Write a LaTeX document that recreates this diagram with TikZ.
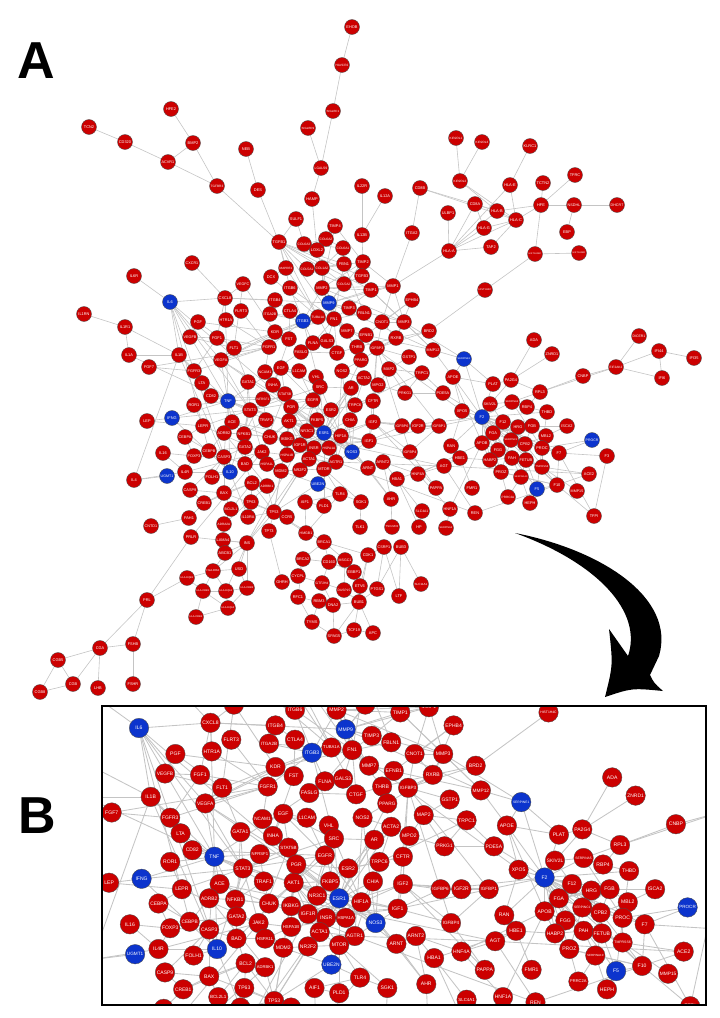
\documentclass[tikz,border=0pt]{standalone}
\usepackage{fontspec}
\usepackage{graphicx}
\setmainfont{Liberation Sans}
\definecolor{nred}{RGB}{204,0,0}
\definecolor{nblue}{RGB}{12,52,205}
\definecolor{egray}{RGB}{196,196,196}
\newsavebox\lblbox
\newcommand\lbl[1]{\sbox\lblbox{#1}\ifdim\wd\lblbox>12.6pt\resizebox{12.6pt}{!}{\usebox\lblbox}\else\usebox\lblbox\fi}
\tikzset{
  nd/.style={circle, draw=black!70, line width=0.35pt, minimum size=15pt, inner sep=0pt, text=white, font=\fontsize{3.9}{4}\selectfont},
  rn/.style={nd, fill=nred},
  bn/.style={nd, fill=nblue},
  ed/.style={draw=egray},
  panellabel/.style={font=\bfseries\fontsize{52}{52}\selectfont, inner sep=0pt, anchor=base west}
}
\def\redlist{EHOB/352/27, HAVCR2/342/65, SIGLEC1/333/111, SIGLEC9/308/128, LGALS9/321/168,
TCN2/89/127, CD320/125/142, HFE2/171/109, BMP2/193/143, ACVR1/168/162, TGFBR3/217/186, NEB/246/149, DES/258/190, IL22R/362/186,
KIR2DL1/456/138, KIR2DL3/482/142, KIR2DL2/460/181, KLRC1/530/146, HLA-E/510/185, TCTN2/543/183, TFRC/575/175, CD8B/420/188, IL12A/385/196,
ULBP1/448/213, CD8A/475/204, HLA-B/497/211, HFE/541/205, NSDHL/574/205, DHCR7/617/205, HLA-C/516/220, HLA-G/484/228, EBP/567/232, ITGA2/412/233, HLA-A/449/251, TAP2/491/247, HIST1H2BC/535/254, HIST1H2BD/579/253, HIST1H4C/485/290,
MMP1/393/286, TIMP1/371/290, EPHB4/412/300, CNOT1/382/322, MMP3/404/322, BRD2/429/331, RXRB/396/338, IGFBP3/377/348, MMP12/433/350, GSTP1/409/357, ADA/534/340, ZNRD1/552/354, DICER1/639/336, IFI44/659/351, IFI35/694/358, EIF2AK2/616/367,
MAP2/389/369, TRPC1/422/373, APOE/453/377, PLAT/493/384, PA2G4/511/380, CNBP/583/376, IFI6/662/378, MPO2/378/385, PRKG1/405/393, PDE5A/443/393, RPL3/540/392, CFTR/373/401, SKIV2L/490/404, SERPINA5/512/402, RBP4/527/407, THBD/547/412, XPO5/462/411, F12/503/422, HRG/518/427, FGB/532/426, ISCA2/567/426, IGF2/373/422, IGFBP6/402/426, IGF2R/418/426, IGFBP1/439/426, FGA/493/433, SERPINC1/511/440, CPB2/525/444, MBL2/546/436, RAN/451/446, APOB/482/443, FGG/498/450, PROC/542/448, F7/559/453, F3/607/456, IGF1/369/441, IGFBP4/410/452, HBE1/460/458, HABP2/490/460, PAH/512/458, FETUB/526/460, ARNT2/383/462, AGT/444/466, PROZ/501/472, TMPRSS6/542/467, ACE2/589/474, HNF4A/418/474, SERPINA10/521/477, HBA1/397/479, F10/557/485, MMP15/577/491, PAPPA/436/488, FMR1/472/488, PRRC2A/508/497, AHR/391/499, HEPH/530/503, HNF1A/450/509, SLC4A1/422/511, REN/475/513, TFPI/594/516, TSC22D3/392/527, HP/419/527, SERPINA4/446/528,
HAMP/312/199, SULF1/296/219, TIMP4/335/226, COL6A2/326/239, TGFB1/279/242, COL6A3/304/244, LOXL2/317/250, COL6A1/343/248, IL12B/362/235, TIMP2/363/262, FBN1/344/264, MAPRE1/286/268, COL5A1/307/269, COL1A2/322/268, TGFB3/362/276, DCX/271/277, CXCR1/192/263, IL6R/134/276, VEGFC/243/284, ITGB6/290/288, MMP2/322/288, COL5A2/344/284, CXCL8/225/298, ITGB4/275/300, CTLA4/290/311, FLRT3/241/311, IL1RN/84/314, IL1R1/125/327, ITGA2B/270/314, TUBA1A/318/317, FN1/334/319, TIMP3/349/308, FBLN1/364/313, HTR1A/226/320, PGF/198/322, KDR/275/332, MMP7/347/331, EFNB1/366/335, VEGFB/190/337, FGF1/217/338, FST/289/339, FLNA/313/343, GALS3/327/341, THRB/357/347, FLT1/234/348, FGFR1/269/347, FASLG/301/352, CTGF/337/353, IL1A/129/355, IL1B/179/355, VEGFA/221/360, PPARG/361/360,
FGF7/149/367, FGFR3/194/371, NCAM1/265/372, EGF/281/368, L1CAM/299/371, VHL/316/377, NOS2/342/371, ACTA2/364/378, LTA/202/383, GATA1/248/382, INHA/273/385, SRC/320/387, AR/351/388, CD82/211/396, NFRSF1/263/399, STAT5B/285/394, EGFR/313/400, TRPC6/355/405, ROR1/194/405, PGR/291/407, STAT3/250/410, ESR2/331/410, LEP/147/421, ACE/232/422, TRAF1/266/420, AKT1/289/421, FKBP5/317/420, CHIA/350/420, LEPR/203/426, CEBPA/185/437, ADRB2/224/433, NFKB1/244/434, NR3C1/307/431, HIF1A/341/436, CHUK/270/437, IKBKG/287/439, IL16/163/453, FOXP3/194/456, CEBPB/209/451, CASP3/224/457, GATA2/245/447, JAK2/262/452, HSPA1B/287/455, IGF1R/300/445, INSR/314/448, HSPA1A/329/448, ACTA1/309/459, AGTR1/336/462, IL4/134/480, IL4R/185/472, FOLH1/212/477, BAD/245/464, HSPA1L/267/464, MDM2/281/471, NR2F2/300/470, MTOR/324/469, ARNT/368/468, CASP9/190/490, BCL2/252/483, ADRBK1/267/486, TLR4/340/494, SGK1/361/502, BAX/224/493, CREB1/204/503, TP63/251/502, AIF1/305/502, PLD1/324/506, BCL2L1/231/509, TP53/274/512, IL10RA/248/517, CCR5/287/517, PAH1/189/518, ADRA2A/224/524, TLK1/360/527, CNTD1/151/526, TP73/269/531, HMGB1/306/533, PRLR/191/537,
LAMA4/223/540, INS/247/543, ABCB1/225/553, USD/239/569, HLA-DQB1/187/578, HLA-DRA/213/571, HLA-DRB1/203/591, HLA-DQA1/226/591, HLA-DRB5/247/588, HLA-DQA2/228/608, HLA-DRB4/196/617, PRL/147/600, CGA/100/648, FSHB/133/644, FSHR/133/684, LHB/98/688, CGB/73/684, CGB5/58/660, CGB8/40/692, GHRH/282/582, BRCA2/303/559, BRCA1/324/542, CD160/329/562, MSGC1/345/560, CYCPL/298/576, GTF2H4/322/583, EBBP1/354/572, ETV6/360/586, RFC1/298/597, RBM3/319/601, DNA2/333/605, DUSP15/344/590, BUB1/359/602, TYMS/312/622, SPAG5/334/636, TCF19/354/630, APC/373/633, CDK1/368/555, CSRP1/384/547, BUB3/401/547, SLC11A1/421/584, PTGS1/377/589, LTF/399/596}
\def\bluelist{IL6/170/302, MMP9/329/303, ITGB3/303/321, TNF/228/401, IFNG/172/418, ESR1/324/433, NOS3/352/452, UGMT1/167/476, IL10/230/472, UBE2N/318/484, SERPINE1/464/359, F2/482/417, PROCR/592/440, F5/537/489}
\def\edgelist{TCN2/CD320, CD320/ACVR1, HFE2/BMP2, BMP2/ACVR1, BMP2/TGFBR3, ACVR1/TGFBR3, TGFBR3/TGFB1, DES/TGFB1, NEB/DES,
EHOB/HAVCR2, HAVCR2/SIGLEC1, SIGLEC1/LGALS9, SIGLEC9/LGALS9, LGALS9/HAMP, IL22R/IL12B, IL12A/IL12B,
KIR2DL1/KIR2DL2, KIR2DL3/KIR2DL2, KIR2DL2/HLA-B, KIR2DL2/HLA-C, KLRC1/HLA-E, HLA-E/HLA-C, HLA-E/HLA-A, TFRC/HFE, TCTN2/HFE, CD8B/HLA-B, CD8B/HLA-C, CD8B/ITGA2,
ULBP1/HLA-A, CD8A/HLA-A, CD8A/HLA-B, CD8A/HLA-G, HLA-B/HLA-C, HLA-G/HLA-C, HLA-G/HLA-A, HLA-C/HLA-A, HLA-C/TAP2, HLA-A/TAP2, HLA-B/HLA-A, HLA-C/HFE, HLA-B/HFE, HFE/NSDHL, NSDHL/DHCR7, NSDHL/EBP, HFE/HIST1H2BC, HIST1H2BC/HIST1H2BD, HIST1H2BC/HIST1H4C, HIST1H4C/BRD2, HLA-A/MMP1, ITGA2/MMP1,
ADA/PA2G4, ZNRD1/PA2G4, PA2G4/PLAT, PA2G4/RPL3, PA2G4/SKIV2L, RPL3/CNBP, RPL3/EIF2AK2, CNBP/EIF2AK2, DICER1/EIF2AK2, EIF2AK2/IFI44, EIF2AK2/IFI6, IFI44/IFI35, IFI44/IFI6, RPL3/SERPINA5, RPL3/RBP4,
SERPINE1/MMP3, SERPINE1/PLAT, SERPINE1/F2, SERPINE1/MMP12, SERPINE1/APOE,
MMP1/CNOT1, MMP1/MMP3, MMP1/TIMP1, EPHB4/CNOT1, EPHB4/RXRB, MMP3/CNOT1, MMP3/RXRB, MMP3/MMP12, MMP3/TIMP1, CNOT1/RXRB, CNOT1/IGFBP3, RXRB/IGFBP3, MMP12/APOE, MMP12/TIMP1, GSTP1/IGFBP3, GSTP1/MAP2, BRD2/IGFBP3, BRD2/RXRB, MAP2/TRPC1, MAP2/MPO2, MAP2/PRKG1, TRPC1/PRKG1, PRKG1/PDE5A, PDE5A/TRPC1, MPO2/PRKG1, MPO2/CFTR, CFTR/IGF2, CFTR/TRPC6, APOE/APOB, APOE/F2, APOE/PLAT, APOE/XPO5, PLAT/F2, PDE5A/F2,
IL6/CXCL8, IL6/IL6R, IL6/IL1B, IL6/STAT3, IL6/TNF, IL6/IL10, IL6/VEGFA, CXCR1/CXCL8, IL1RN/IL1R1, IL1R1/IL1B, IL1R1/IL1A, IL1A/IL1B, IL1B/TNF, IL1B/FGFR3, IL1B/IL10, IL1B/IL4,
FGF7/FGFR3, FGF7/FGFR1, FGFR3/FGF1, FGFR3/LTA, FGFR3/FGFR1, VEGFC/CXCL8, VEGFC/KDR, VEGFC/FLT1, CXCL8/MMP9, CXCL8/FGF1, CXCL8/ITGB4,
PGF/FLT1, PGF/VEGFB, PGF/KDR, VEGFB/FLT1, VEGFB/FGF1, FGF1/FGFR1, FLT1/VEGFA, FLT1/KDR, KDR/VEGFA, KDR/FGFR1, VEGFA/FGFR1, VEGFA/ITGB3, VEGFA/HIF1A, VEGFA/NOS3, FLRT3/FGFR1, HTR1A/FGFR1, HTR1A/CXCL8, FLT1/GATA1,
ITGB4/ITGB3, ITGB4/ITGA2B, ITGA2B/ITGB3, ITGB6/FN1, ITGB6/ITGB3, ITGB6/TGFB1, ITGB3/FN1, ITGB3/TUBA1A, FN1/TUBA1A, FN1/MMP9, FN1/COL1A2, FN1/TGFB1, FN1/FBN1, FN1/FBLN1, FN1/TIMP3, FN1/FLNA, FN1/CTGF, FN1/ITGA2B, FN1/KDR, DCX/MAPRE1, MAPRE1/TUBA1A, DCX/TUBA1A, CTLA4/ITGB3, CTLA4/FST, ITGB3/KDR, ITGB3/FLNA, ITGB3/SRC, ITGB3/FGFR1, ITGB3/MMP2, FLNA/GALS3, GALS3/FN1, FASLG/FLNA, FASLG/TNF, FASLG/CTGF, CTGF/THRB, CTGF/TGFB1, FST/INHA, FST/KDR, MMP7/MMP9, MMP7/EFNB1, MMP7/FN1, EFNB1/EPHB4, MMP2/TIMP2, MMP2/TIMP1, MMP2/MMP9, MMP2/COL1A2, MMP9/TIMP1, MMP9/TIMP3, MMP9/COL5A2, MMP9/MMP1, MMP9/MMP3, MMP9/TIMP2, FBLN1/FBN1,
COL6A2/COL6A3, COL6A2/COL6A1, COL6A3/COL6A1, COL6A1/COL1A2, COL1A2/COL5A1, COL5A1/COL5A2, COL5A2/COL1A2, COL1A2/LOXL2, LOXL2/COL6A3, COL5A1/FBN1, FBN1/TGFB1, TGFB1/SULF1, SULF1/COL6A3, HAMP/LOXL2, TIMP4/TIMP2, TIMP4/COL6A2, TIMP4/MMP2, TGFB3/TGFB1, TGFB3/COL5A2, TGFB1/COL1A2, TGFB1/MAPRE1, TGFB1/TIMP1, TGFB1/COL5A1, COL6A1/FBN1, COL1A2/TIMP2, IL12B/TIMP2,
PPARG/RXRB, PPARG/NOS2, PPARG/THRB, PPARG/ESR1, THRB/RXRB,
NCAM1/L1CAM, NCAM1/FGFR1, EGF/EGFR, EGF/L1CAM, EGF/STAT5B, L1CAM/EGFR, VHL/HIF1A, VHL/EGFR, VHL/SRC, SRC/EGFR, SRC/AR, SRC/ESR1, SRC/STAT3, SRC/FKBP5, AR/ESR2, AR/ESR1, AR/ACTA2, NOS2/NOS3, NOS2/ACTA2, ACTA2/ACTA1, ESR1/ESR2, ESR1/NR3C1, ESR1/PGR, ESR1/AKT1, ESR1/HIF1A, ESR1/IGF1R, ESR1/FKBP5, ESR1/MTOR, ESR1/CHIA, NR3C1/FKBP5, NR3C1/HSPA1A, NR3C1/AKT1, PGR/ESR2, PGR/STAT5B, PGR/AKT1, STAT5B/STAT3, STAT5B/JAK2, STAT3/JAK2, STAT3/EGFR, STAT3/NFKB1, STAT3/AKT1, STAT3/GATA1,
NFRSF1/TNF, NFRSF1/TRAF1, NFRSF1/NFKB1, TNF/TRAF1, TNF/NFKB1, TNF/IL10, TNF/IFNG, TNF/CASP3, TNF/LTA, TNF/CD82, TNF/ROR1, LTA/CD82, IFNG/IL10, IFNG/STAT3, IFNG/LEP, LEP/LEPR, LEPR/JAK2, LEPR/STAT3, ACE/AGTR1, ACE/ADRB2, ACE/TNF, TRAF1/NFKB1, TRAF1/CHUK,
AKT1/MTOR, AKT1/CHUK, AKT1/IKBKG, AKT1/IGF1R, AKT1/BAD, AKT1/MDM2, AKT1/TP53, AKT1/INSR, AKT1/SRC, AKT1/EGFR, AKT1/FKBP5, AKT1/HSPA1B, AKT1/NOS3, CHUK/IKBKG, CHUK/NFKB1, IKBKG/NFKB1, IKBKG/HSPA1B, NFKB1/ADRB2, NFKB1/GATA2, ADRB2/ADRBK1, ADRB2/CEBPB, CEBPA/CEBPB, CEBPA/FOXP3, CEBPA/LEPR, CEBPB/GATA2, CEBPB/CASP3, FOXP3/IL4R, FOXP3/IL16, FOXP3/CASP3, IL16/IL4R,
CASP3/BAD, CASP3/CASP9, CASP3/BAX, CASP3/GATA2, CASP9/BAX, BAX/BCL2, BAX/BCL2L1, BAX/TP53, BCL2/BAD, BCL2/BCL2L1, BCL2/TP53, BCL2/TP63, BAD/HSPA1L, BAD/GATA2, HSPA1L/HSPA1B, HSPA1L/MDM2, HSPA1B/HSPA1A, HSPA1B/JAK2, HSPA1A/INSR, HSPA1A/IGF1R, IGF1R/INSR, IGF1R/IGF1, IGF1R/IGF2, INSR/ACTA1, INSR/IGF2, ACTA1/MTOR, ACTA1/AGTR1, MTOR/HIF1A, MTOR/PLD1, MTOR/UBE2N, HIF1A/NOS3, HIF1A/ARNT, HIF1A/CHIA, NOS3/AGTR1, NOS3/TRPC6, NOS3/IGF1,
MDM2/TP53, MDM2/NR2F2, TP53/TP63, TP53/TP73, TP53/HMGB1, TP53/CCR5, TP53/IL10RA, TP53/ADRBK1, NR2F2/ESR1, NR2F2/MTOR, UBE2N/TP53, UBE2N/TLR4, UBE2N/MDM2, TLR4/HMGB1, TLR4/AIF1, TLR4/SGK1, PLD1/AIF1, SGK1/MTOR, TLK1/SGK1, IL10RA/IL10, IL4/IL4R, UGMT1/IL4, IL4R/JAK2, IL10/FOLH1, IL10/IL4R, FOLH1/CASP3, CREB1/BCL2, CREB1/BAX, CREB1/CASP9, ADRA2A/ADRBK1, ADRA2A/BCL2L1, PAH1/CREB1, CNTD1/PAH1, PRLR/JAK2, PRLR/INS, INS/INSR, INS/IGF1R, INS/TP53,
ARNT/ARNT2, ARNT/AHR, CHIA/TRPC6, GATA1/GATA2, INHA/STAT5B, INHA/EGF, GATA2/JAK2, JAK2/MDM2, ROR1/LEPR, CD82/EGFR, TRPC6/TRPC1, TRPC6/ESR2,
IGF1/IGFBP3, IGF1/IGFBP1, IGF1/IGFBP4, IGF1/IGFBP6, IGF2/IGFBP6, IGF2/IGF2R, IGF2/IGFBP4, IGF2/IGFBP3, IGF2R/IGFBP1, IGFBP1/F2, IGFBP1/IGFBP4, IGFBP6/IGFBP1, IGF1/HIF1A, IGFBP3/IGFBP1,
AGTR1/AGT, AGT/REN, AGT/ACE, AGT/HNF4A, AGT/HBE1, HNF4A/HNF1A, HNF4A/ARNT2, HNF4A/APOB, ARNT2/AHR, AHR/TSC22D3, HBA1/HP, HBA1/SLC4A1, HBA1/HBE1, HBA1/ARNT2, PAPPA/IGFBP4, PAPPA/IGF2, FMR1/HBE1, REN/ACE2, HNF1A/SERPINA4, HNF1A/APOB, SLC4A1/HP, XPO5/RAN, RAN/F2, HBE1/HABP2,
F2/F12, F2/FGA, F2/FGB, F2/FGG, F2/SERPINC1, F2/THBD, F2/F5, F2/F10, F2/F7, F2/PROC, F2/CPB2, F2/HRG, F2/APOB, F2/SERPINA5, F2/PROZ, F2/SKIV2L, F2/XPO5, F2/HABP2, F2/IGFBP6,
F12/HRG, F12/FGA, F12/SERPINC1, F12/HABP2, F12/CPB2, HRG/FGB, HRG/FGA, HRG/FETUB, HRG/SERPINC1, FGB/FGA, FGB/FGG, FGB/CPB2, FGB/MBL2, FGA/FGG, FGA/SERPINC1, FGA/PAH, FGG/PAH, FGG/SERPINC1, FGG/HABP2, SERPINC1/CPB2, SERPINC1/PROC, SERPINC1/F10, SERPINC1/PROZ, CPB2/PROC, CPB2/FETUB, CPB2/MBL2, MBL2/PROC, PROC/F7, PROC/PROCR, PROC/F5, PROC/THBD, PROC/TMPRSS6, FETUB/PAH, FETUB/SERPINA10, FETUB/TMPRSS6, PAH/HABP2, PAH/SERPINA10, HABP2/PROZ, PROZ/SERPINA10, PROZ/F10, SERPINA10/F10, SERPINA10/PRRC2A, F5/F10, F10/F7, F7/F3, F7/TFPI, F3/TFPI, F10/TFPI, ACE2/TMPRSS6, MMP15/TMPRSS6, HEPH/SERPINA10, PRRC2A/PROZ, THBD/RBP4, RBP4/SERPINA5, ISCA2/MBL2, ISCA2/FGB, SKIV2L/F12, SKIV2L/SERPINA5, PROCR/F7, APOB/FGA, APOB/FGG, APOB/HABP2, APOB/PAH, F5/HEPH, FETUB/F5, CPB2/F10, SERPINA5/PROC,
PRL/PRLR, PRL/HLA-DQB1, PRL/CGA, PRL/FSHB, CGA/FSHB, CGA/LHB, CGA/CGB, CGA/CGB5, CGB5/CGB, CGB/CGB8, CGB5/CGB8, FSHB/FSHR,
INS/ABCB1, INS/USD, INS/HLA-DRA, INS/HLA-DQA1, INS/HLA-DRB5, INS/LAMA4, HLA-DQB1/HLA-DRA, HLA-DQB1/HLA-DRB1, HLA-DRA/HLA-DRB1, HLA-DRA/HLA-DQA1, HLA-DRB1/HLA-DQA1, HLA-DRB1/HLA-DRB4, HLA-DRB1/HLA-DQA2, HLA-DQA1/HLA-DQA2, HLA-DQA1/HLA-DRB5, HLA-DRB5/HLA-DQA2, HLA-DRB4/HLA-DQA2, USD/HLA-DRA, ABCB1/HLA-DRA, USD/HLA-DRB5,
BRCA1/BRCA2, BRCA1/CD160, BRCA1/MSGC1, BRCA1/TP53, BRCA1/CDK1, BRCA2/RFC1, BRCA2/CYCPL, BRCA2/CD160, CD160/GTF2H4, MSGC1/EBBP1, EBBP1/ETV6, GTF2H4/DNA2, RBM3/DNA2, RBM3/TYMS, DNA2/SPAG5, DUSP15/BUB1, BUB1/TCF19, BUB1/SPAG5, BUB1/DNA2, ETV6/BUB1, TCF19/SPAG5, TYMS/SPAG5, RFC1/TYMS, GHRH/TP73, CDK1/BUB1, CDK1/ETV6, APC/TCF19, APC/BUB1, CSRP1/PTGS1, BUB3/PTGS1, BUB3/LTF, BUB3/SLC11A1, CSRP1/LTF, CYCPL/GTF2H4, RFC1/DNA2, CD160/EBBP1, GTF2H4/DUSP15, MSGC1/DUSP15, PTGS1/BUB1, CSRP1/CDK1,
AKT1/IGF1, EGFR/ESR1, SRC/EGF, STAT3/TNF, TNF/AKT1, IL10/STAT3, TP53/AR, TP53/ESR1, HIF1A/EGFR, NOS3/ESR1, IGF1/INSR, MMP2/MMP3, MMP2/MMP1, MMP9/MMP12, TIMP2/MMP1, FN1/MMP2, FN1/THRB, ESR1/IGF1, IGF1/IGF2, IGF2/IGFBP1, IGFBP4/IGFBP3, AHR/HIF1A, ARNT/ESR1, ACTA2/AGTR1, AGTR1/NOS2, FGA/FN1, ACE2/AGT, REN/AGTR1, VEGFA/TNF, VEGFA/STAT3, IL6/ESR1, TNF/ESR1, EGFR/IGF1R, SRC/IGF1R, ESR2/NR3C1, PGR/NR3C1, IL6/CEBPB, TNF/IL1A, CXCL8/TNF, HMGB1/AIF1, MTOR/TLR4, TIMP1/TIMP3, MMP12/MMP7, CFTR/ESR2}
\newcommand\drawnet[6]{%
  \foreach \n/\x/\y in \redlist {\coordinate (#1\n) at (\x,\y);}
  \foreach \n/\x/\y in \bluelist {\coordinate (#1\n) at (\x,\y);}
  \foreach \a/\b in \edgelist {\draw[ed, line width=#2] (#1\a) -- (#1\b);}
  \foreach \n/\x/\y in \redlist {\ifdim\x pt>#3pt\ifdim\x pt<#4pt\ifdim\y pt>#5pt\ifdim\y pt<#6pt
      \node[rn] (#1v\n) at (\x,\y) {\lbl{\n}};\fi\fi\fi\fi}
  \foreach \n/\x/\y in \bluelist {\ifdim\x pt>#3pt\ifdim\x pt<#4pt\ifdim\y pt>#5pt\ifdim\y pt<#6pt
      \node[bn] (#1v\n) at (\x,\y) {\lbl{\n}};\fi\fi\fi\fi}
}
\begin{document}
\begin{tikzpicture}[x=1pt,y=-1pt]
\useasboundingbox (0,0) rectangle (720,1018);
\node[panellabel] (labA) at (17,78) {A};
\drawnet{a}{0.6pt}{0}{9999}{0}{9999}
\fill[black] (515,533) .. controls (602,550) and (676,598) .. (659,656)
  -- (650,675) .. controls (654,683) .. (663,691)
  .. controls (632,688) .. (605,697)
  .. controls (613,665) .. (609,629)
  .. controls (619,643) .. (628,656)
  .. controls (643,612) and (598,563) .. (515,533) -- cycle;
\begin{scope}
  \clip (102,706) rectangle (706,1005);
  \begin{scope}[shift={(-82,335.4)}, scale=1.3, transform shape]
    \drawnet{b}{0.85pt}{135}{607}{278}{523}
  \end{scope}
\end{scope}
\draw[line width=1.8pt] (102,706) rectangle (706,1005);
\node[panellabel] (labB) at (18,833) {B};
\end{tikzpicture}
\end{document}
